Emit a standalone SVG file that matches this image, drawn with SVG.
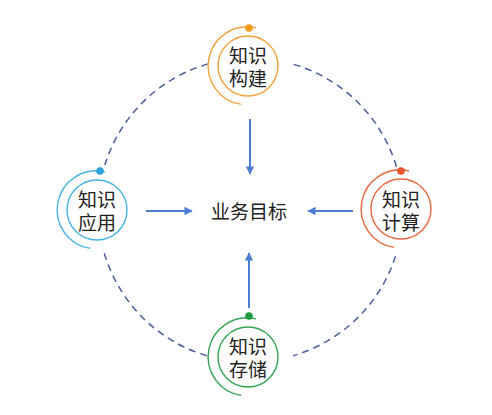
<svg xmlns="http://www.w3.org/2000/svg" width="492" height="415" viewBox="0 0 492 415">
<style>
text{font-family:"Liberation Sans","Noto Sans CJK SC",sans-serif;font-size:19px;fill:#222;text-anchor:middle}
.dash{fill:none;stroke:#4A5F9C;stroke-width:1.5;stroke-dasharray:7 5}
.arr{stroke:#4A7FD4;stroke-width:2;fill:none}
.in{fill:#fff;stroke-width:1.4}
.out{fill:none;stroke-width:1.4}
</style>
<defs>
<marker id="ah" viewBox="0 0 10 10" refX="9" refY="5" markerWidth="4.2" markerHeight="4.2" orient="auto" markerUnits="strokeWidth">
<path d="M0,0 L10,5 L0,10 z" fill="#4A7FD4"/>
</marker>
</defs>
<rect width="492" height="415" fill="#fff"/>
<g id="connectors">
<path class="dash" d="M208.1,63.9 A152,152 0 0 0 104.8,165.1"/>
<path class="dash" d="M293.7,64.4 A152,152 0 0 1 397,168.6"/>
<path class="dash" d="M104.3,253.2 A152,152 0 0 0 207.6,356"/>
<path class="dash" d="M395.5,256.2 A152,152 0 0 1 293.2,355.7"/>
<line class="arr" x1="250" y1="119" x2="250" y2="174" marker-end="url(#ah)"/>
<line class="arr" x1="249" y1="308" x2="249" y2="253" marker-end="url(#ah)"/>
<line class="arr" x1="146" y1="211" x2="192" y2="211" marker-end="url(#ah)"/>
<line class="arr" x1="353" y1="211" x2="308" y2="211" marker-end="url(#ah)"/>
</g>
<g id="node-top">
<path class="out" stroke="#F2A23A" d="M256.1,27.9 A39,39 0 1 0 241.2,104.4"/>
<circle cx="249" cy="28" r="3.8" fill="#F39A1E"/>
<circle class="in" stroke="#F2A23A" cx="248" cy="66" r="30"/>
<text x="248" y="63">知识</text>
<text x="248" y="86">构建</text>
</g>
<g id="node-right">
<path class="out" stroke="#E8683E" d="M409.1,170.9 A39,39 0 1 0 394.2,247.4"/>
<circle cx="401" cy="171" r="3.8" fill="#E8542A"/>
<circle class="in" stroke="#E8683E" cx="401" cy="209" r="30"/>
<text x="401" y="207">知识</text>
<text x="401" y="230">计算</text>
</g>
<g id="node-left">
<path class="out" stroke="#45B3E3" d="M105.1,171.9 A39,39 0 1 0 90.2,248.4"/>
<circle cx="100" cy="171" r="3.8" fill="#2AA2DC"/>
<circle class="in" stroke="#45B3E3" cx="97" cy="210" r="30"/>
<text x="97" y="207">知识</text>
<text x="97" y="230">应用</text>
</g>
<g id="node-bottom">
<path class="out" stroke="#34A353" d="M256.1,318.9 A39,39 0 1 0 241.2,395.4"/>
<circle cx="249" cy="316" r="3.8" fill="#1F9A40"/>
<circle class="in" stroke="#34A353" cx="248" cy="357" r="30"/>
<text x="248" y="354">知识</text>
<text x="248" y="377">存储</text>
</g>
<g id="node-center">
<text x="249" y="218.5">业务目标</text>
</g>
</svg>
